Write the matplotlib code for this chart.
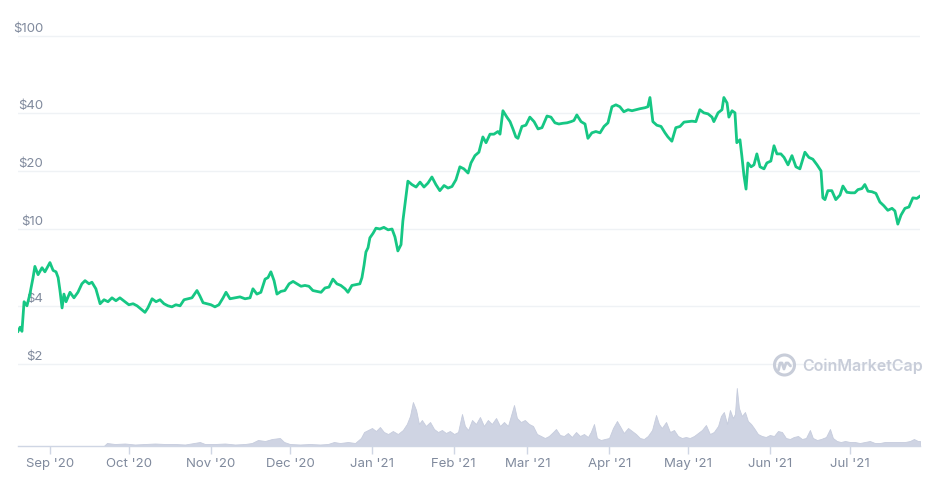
import numpy as np
import matplotlib
matplotlib.use("Agg")
import matplotlib.pyplot as plt
import matplotlib.dates as mdates
from matplotlib.patches import Ellipse
from matplotlib.lines import Line2D

plt.rcParams['font.family'] = ['Inter', 'DejaVu Sans']

START = np.datetime64('2020-08-20T00:00')

# days since START and price (USD)
price_days = [0, 0.8, 1.5, 2.3, 3.4, 4.5, 5.7, 6.4, 7.6, 9.1, 10.2, 12.1, 13.3, 14.4, 15.2, 15.9,
              16.7, 17.4, 18.2, 19.7, 21.2, 22.7, 24.2, 25.4, 26.9, 28.0, 29.5, 31.1, 32.6, 34.1,
              35.6, 37.1, 38.6, 40.5, 42.0, 43.6, 45.1, 46.6, 48.1, 49.2, 50.8, 52.3, 53.8, 55.3,
              56.8, 58.3, 59.8, 61.4, 62.9, 64.4, 65.9, 67.8, 68.9, 70.1, 71.6, 73.1, 74.6, 76.1,
              77.7, 78.8, 80.3, 82.2, 84.1, 86.0, 87.9, 89.0, 90.5, 92.0, 93.6, 94.7, 95.8, 97.0,
              98.1, 99.6, 101.1, 102.7, 104.2, 105.7, 107.2, 108.7, 110.2, 111.7, 113.3, 114.8,
              116.3, 117.8, 119.3, 120.8, 122.3, 123.9, 125.0, 126.5, 128.0, 129.5, 130.3, 131.1,
              131.8, 132.6, 133.3, 134.5, 135.6, 137.1, 138.6, 140.2, 141.7, 142.8, 143.9, 145.1,
              145.8, 146.6, 147.7, 149.2, 150.8, 152.3, 153.8, 155.3, 156.8, 158.3, 159.8, 161.4,
              162.9, 164.4, 165.9, 167.4, 168.9, 170.5, 171.6, 173.1, 174.6, 176.1, 177.3, 178.8,
              180.3, 181.8, 182.6, 183.7, 185.2, 186.4, 187.5, 188.6, 189.4, 190.9, 192.4, 193.9,
              195.5, 197.0, 198.5, 200.4, 201.9, 203.4, 204.9, 206.4, 208.0, 209.5, 210.6, 211.7,
              213.3, 214.8, 215.9, 217.4, 218.9, 220.5, 222.0, 223.5, 225.0, 226.5, 228.0, 229.5,
              231.1, 232.6, 234.1, 235.6, 237.5, 238.6, 239.4, 240.5, 242.0, 243.6, 245.1, 246.2,
              247.7, 249.2, 250.8, 252.3, 253.8, 255.3, 256.8, 258.3, 259.8, 261.4, 262.9, 263.6,
              265.2, 266.7, 267.4, 268.6, 269.3, 270.5, 271.6, 272.3, 273.5, 274.2, 275.0, 275.8,
              276.5, 277.7, 278.8, 279.9, 281.1, 282.6, 283.7, 285.2, 286.4, 287.5, 289.0, 290.2,
              291.7, 293.2, 294.7, 296.2, 298.1, 299.6, 301.1, 302.7, 304.2, 304.9, 305.7, 306.8,
              308.3, 309.8, 311.4, 312.5, 314.0, 315.5, 317.0, 318.2, 319.7, 320.8, 322.0, 323.5,
              325.0, 326.5, 328.0, 329.5, 331.1, 332.2, 333.3, 334.5, 336.0, 337.5, 339.0, 340.5,
              341.7]
prices = [2.95, 3.1, 2.95, 4.2, 4.0, 4.6, 5.6, 6.4, 5.8, 6.3, 6.0, 6.7, 6.1, 6.0, 5.6, 4.8,
          3.9, 4.6, 4.2, 4.7, 4.4, 4.7, 5.2, 5.4, 5.2, 5.3, 4.9, 4.1, 4.3, 4.2,
          4.4, 4.25, 4.4, 4.2, 4.05, 4.1, 4.0, 3.85, 3.7, 3.9, 4.35, 4.2, 4.3, 4.1,
          4.0, 3.95, 4.05, 4.0, 4.3, 4.35, 4.4, 4.8, 4.5, 4.15, 4.1, 4.05, 3.95, 4.05,
          4.4, 4.7, 4.35, 4.4, 4.45, 4.35, 4.4, 4.9, 4.6, 4.7, 5.5, 5.6, 6.0, 5.4,
          4.6, 4.75, 4.8, 5.2, 5.35, 5.2, 5.05, 5.1, 5.05, 4.8, 4.75, 4.7,
          4.95, 5.0, 5.5, 5.2, 5.1, 4.9, 4.7, 5.1, 5.15, 5.2, 5.6, 6.5,
          7.6, 8.0, 9.0, 9.5, 10.1, 10.0, 10.2, 9.9, 10.0, 9.1, 7.7, 8.3,
          11.0, 13.5, 17.7, 17.0, 16.5, 17.5, 16.5, 17.3, 18.6, 17.0, 15.8, 16.8,
          16.3, 16.6, 18.0, 21.0, 20.5, 19.5, 22.0, 24.0, 25.0, 30.0, 28.0, 31.0,
          31.0, 32.0, 31.0, 41.0, 38.0, 36.0, 33.0, 30.0, 29.5, 34.0, 34.5, 38.0,
          36.0, 33.0, 33.5, 38.5, 38.0, 35.5, 35.0, 35.3, 35.5, 36.0, 36.5, 39.0,
          36.0, 35.0, 29.5, 31.5, 32.0, 31.5, 34.0, 35.5, 43.0, 44.0, 43.0, 40.5,
          41.5, 41.0, 41.5, 42.0, 42.5, 43.0, 48.0, 36.0, 34.5, 34.0, 31.5, 30.0,
          28.5, 33.5, 34.0, 35.8, 36.0, 36.2, 36.0, 41.5, 40.0, 39.5, 38.0, 36.0,
          40.0, 41.5, 48.0, 45.0, 38.0, 41.0, 40.0, 28.0, 29.0, 24.0, 19.0, 16.1,
          22.0, 21.0, 21.5, 24.5, 21.0, 20.5, 22.0, 22.5, 27.0, 24.5, 24.5, 23.5,
          21.5, 24.0, 21.0, 20.5, 25.0, 23.5, 23.0, 21.5, 20.0, 14.5, 14.2, 15.8,
          15.8, 14.2, 15.0, 16.7, 15.5, 15.4, 15.4, 16.0, 16.2, 17.0, 15.7, 15.6,
          15.3, 13.8, 13.2, 12.5, 12.8, 12.4, 10.6, 11.8, 12.8, 13.0, 14.5, 14.4,
          14.8]

# days since START and 24h volume (billion USD)
vol_days = [0, 32.5, 33.7, 36.7, 40.5, 44.3, 48.1, 51.9, 55.7, 59.5, 63.3, 67.8, 68.9, 70.8,
            74.6, 78.4, 82.2, 86.0, 88.6, 90.9, 93.6, 96.2, 99.2, 100.8, 103.0, 106.8, 110.6,
            114.4, 117.4, 119.7, 122.0, 125.0, 127.7, 129.9, 131.1, 132.6, 134.1, 135.6, 137.1,
            138.6, 140.2, 142.0, 143.9, 145.8, 147.3, 148.5, 149.6, 150.8, 151.9, 153.0, 154.5,
            156.1, 157.6, 159.1, 160.6, 162.1, 163.6, 165.2, 166.7, 168.2, 169.3, 170.5, 172.0,
            173.5, 175.0, 176.5, 178.0, 179.5, 181.1, 182.6, 184.1, 185.6, 186.7, 187.9, 189.0,
            190.5, 192.0, 193.6, 195.1, 196.6, 198.1, 199.6, 201.1, 202.7, 203.8, 205.3, 206.8,
            208.3, 209.8, 211.4, 212.9, 214.4, 215.9, 217.0, 218.2, 219.3, 220.8, 222.3, 223.9,
            225.4, 226.9, 228.0, 229.5, 231.1, 232.6, 234.1, 235.6, 237.1, 238.6, 240.2, 241.7,
            242.8, 243.9, 245.5, 247.0, 248.5, 250.0, 251.5, 253.0, 254.5, 256.1, 257.6, 259.1,
            260.6, 262.1, 263.6, 265.2, 266.3, 267.4, 268.6, 269.7, 270.8, 271.6, 272.3, 273.1,
            274.2, 275.4, 276.5, 277.7, 278.8, 280.3, 281.8, 283.3, 284.8, 286.4, 287.9, 289.4,
            290.9, 292.4, 293.9, 295.5, 297.0, 298.5, 300.0, 301.1, 302.7, 304.2, 306.1, 307.6,
            308.7, 310.2, 311.7, 313.3, 315.2, 317.0, 318.9, 320.8, 322.7, 324.6, 326.5, 328.4,
            330.3, 332.2, 334.1, 336.0, 337.9, 339.4, 340.9, 341.7]
volumes = [0, 0, 0.45, 0.3, 0.375, 0.225, 0.3, 0.375, 0.3, 0.3, 0.225, 0.525, 0.6, 0.3,
           0.3, 0.375, 0.225, 0.3, 0.45, 0.9, 0.75, 1.05, 1.2, 0.6, 0.3, 0.225, 0.3,
           0.225, 0.3, 0.6, 0.45, 0.6, 0.45, 1.2, 2.1, 2.4, 2.7, 2.25, 2.85,
           2.1, 1.8, 2.25, 1.8, 2.4, 3.3, 4.5, 6.6, 5.4, 3.3, 3.9, 3.0,
           3.6, 2.55, 2.1, 2.4, 1.95, 2.25, 1.8, 2.1, 4.8, 3.0, 2.4, 3.9,
           3.3, 4.35, 3.0, 3.9, 3.3, 4.2, 3.0, 3.6, 3.0, 4.5, 6.15, 4.2,
           3.6, 3.9, 3.3, 3.0, 1.8, 1.5, 1.2, 1.5, 2.1, 2.55, 1.65, 1.5,
           1.95, 1.35, 2.1, 1.5, 1.8, 1.35, 2.1, 3.3, 1.2, 0.9, 1.05, 1.2,
           2.7, 3.75, 3.0, 1.95, 2.7, 2.25, 1.8, 1.2, 1.05, 1.5, 2.4, 4.65,
           3.3, 2.7, 3.6, 2.1, 2.4, 1.5, 1.2, 1.35, 1.2, 1.5, 1.95, 2.4,
           3.15, 1.8, 2.1, 3.0, 4.5, 5.1, 3.3, 5.4, 4.2, 4.8, 8.7, 5.7,
           4.5, 5.1, 3.75, 3.3, 2.7, 1.8, 1.5, 1.35, 1.65, 1.5, 2.25, 2.1,
           1.2, 1.05, 1.35, 1.5, 1.05, 1.2, 2.4, 1.2, 0.9, 1.05, 1.35, 2.55,
           1.2, 0.75, 0.6, 0.75, 0.6, 0.6, 0.45, 0.6, 0.75, 0.45, 0.45, 0.6,
           0.6, 0.6, 0.6, 0.6, 0.75, 1.05, 0.75, 0.75]

price_ticks = [2, 4, 10, 20, 40, 100]
price_tick_labels = ['$2', '$4', '$10', '$20', '$40', '$100']
month_ticks = ['2020-09-01', '2020-10-01', '2020-11-01', '2020-12-01', '2021-01-01', '2021-02-01',
               '2021-03-01', '2021-04-01', '2021-05-01', '2021-06-01', '2021-07-01']
month_labels = ["Sep '20", "Oct '20", "Nov '20", "Dec '20", "Jan '21", "Feb '21",
                "Mar '21", "Apr '21", "May '21", "Jun '21", "Jul '21"]


def to_dates(days):
    mins = np.round(np.asarray(days) * 24 * 60).astype('int64').astype('timedelta64[m]')
    return (START + mins).astype('datetime64[ms]').astype(object)


W, H = 931, 485
fig = plt.figure(figsize=(W / 100, H / 100), dpi=100)

x0, x1 = 18, 920
yb, yt = 447, 20
ax = fig.add_axes([x0 / W, (H - yb) / H, (x1 - x0) / W, (yb - yt) / H])
axv = ax.twinx()
ax.set_zorder(2)
ax.patch.set_visible(False)
axv.set_zorder(1)

pd_dates = to_dates(price_days)
vd_dates = to_dates(vol_days)

# volume
axv.fill_between(vd_dates, 0, volumes, color='#cfd4e3', linewidth=0.6, edgecolor='#c6ccdd')
axv.set_ylim(0, 64.05)
axv.set_yticks([])
for s in axv.spines.values():
    s.set_visible(False)

# price
ax.plot(pd_dates, prices, color='#16c784', lw=2.0, solid_joinstyle='round', zorder=3)
ax.set_yscale('log')
ax.set_ylim(0.751, 122.5)
ax.set_yticks([])
ax.minorticks_off()
ax.yaxis.set_minor_locator(matplotlib.ticker.NullLocator())
xlim = to_dates([0, 341.7])
ax.set_xlim(xlim[0], xlim[1])

for t, lab in zip(price_ticks, price_tick_labels):
    ax.axhline(t, color='#eff2f5', lw=1.0, zorder=0)
    ax.annotate(lab, xy=(0, t), xycoords=('axes fraction', 'data'),
                xytext=(43 - x0, 2), textcoords='offset pixels',
                ha='right', va='bottom', fontsize=9.5, color='#808a9d', zorder=1)

tick_dates = [np.datetime64(d).astype('datetime64[ms]').astype(object) for d in month_ticks]
ax.set_xticks(tick_dates)
ax.set_xticklabels(month_labels)
ax.tick_params(axis='x', length=6, width=1, color='#cfd6e4', pad=2,
               labelsize=9.5, labelcolor='#808a9d')
for side in ['top', 'right', 'left']:
    ax.spines[side].set_visible(False)
ax.spines['bottom'].set_color('#cfd6e4')
ax.spines['bottom'].set_linewidth(1.0)

# watermark
wm = '#c8cdd9'
cx, cy, r = 784.5, 366, 10
fig.add_artist(Ellipse((cx / W, (H - cy) / H), 2 * r / W, 2 * r / H, fill=False,
                       edgecolor=wm, lw=2.2, transform=fig.transFigure, zorder=5))
wave_x = np.array([-6, -4.5, -2.5, -0.5, 1.5, 3.5, 6]) + cx
wave_y = np.array([5, -2, -2, 4, -2, -2, 1]) + cy
fig.add_artist(Line2D(wave_x / W, (H - wave_y) / H, color=wm, lw=2.0,
                      transform=fig.transFigure, zorder=5, solid_capstyle='round'))
fig.text(802 / W, (H - 366) / H, 'CoinMarketCap', fontsize=11.5, fontweight='semibold',
         color=wm, ha='left', va='center', zorder=5)

fig.savefig('out.png', dpi=100)
